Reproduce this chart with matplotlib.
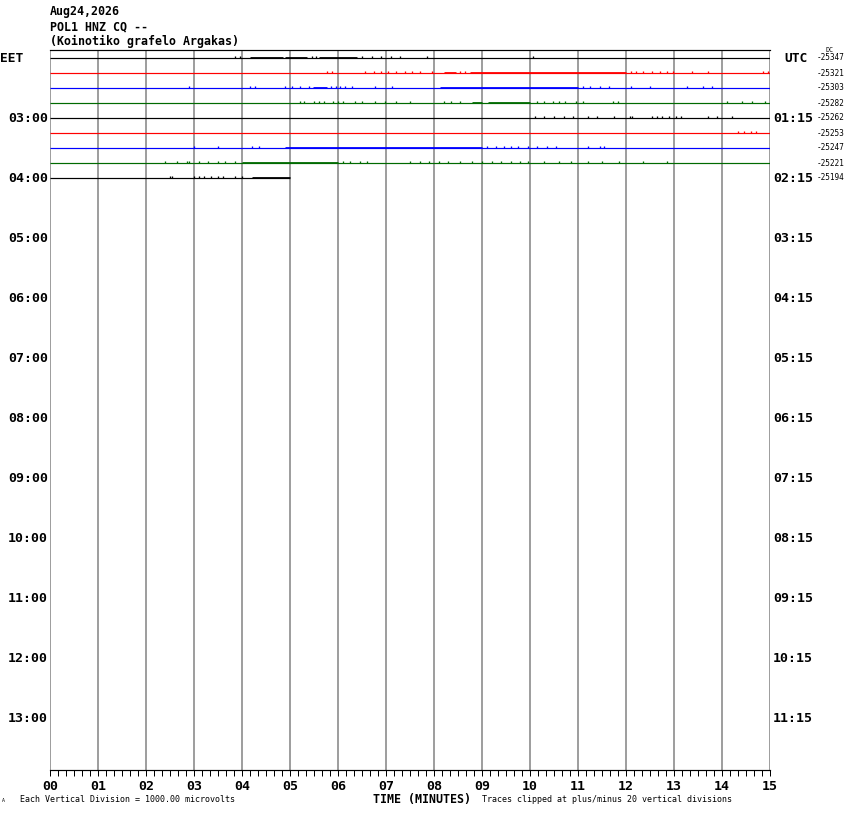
import matplotlib
matplotlib.use("Agg")
import matplotlib.pyplot as plt
from matplotlib.ticker import MultipleLocator

# header
title_lines = ["Aug24,2026", "POL1 HNZ CQ --", "(Koinotiko grafelo Argakas)"]

# hour labels (one row = 15 minutes, one label every 4 rows)
eet_labels = ["03:00", "04:00", "05:00", "06:00", "07:00", "08:00",
              "09:00", "10:00", "11:00", "12:00", "13:00"]
utc_labels = ["01:15", "02:15", "03:15", "04:15", "05:15", "06:15",
              "07:15", "08:15", "09:15", "10:15", "11:15"]

# DC offset printed at the right of each trace row
dc_values = [-25347, -25321, -25303, -25282, -25262, -25253, -25247, -25221, -25194]

trace_colors = ["black", "red", "#0000ff", "#006a00"]
n_rows_total = 48
last_row_end = 5.0   # minutes recorded on the last row

# spikes: dense spans (min) and single spikes (min)
dense_spans = [
    [(4.17, 4.85), (4.9, 5.35), (5.6, 6.4)],
    [(8.2, 8.45), (8.75, 12.0)],
    [(5.48, 5.77), (8.12, 11.0)],
    [(8.8, 9.0), (9.13, 10.0)],
    [],
    [],
    [(4.9, 9.0)],
    [(4.0, 6.0)],
    [(4.2, 5.0)],
]
single_spikes = [
    [3.85, 3.95, 5.45, 5.55, 6.5, 6.7, 6.9, 7.1, 7.3, 7.85, 10.07],
    [5.77, 5.88, 6.57, 6.75, 6.9, 7.05, 7.2, 7.4, 7.55, 7.7, 7.95, 8.55, 8.65,
     12.1, 12.2, 12.35, 12.55, 12.7, 12.85, 12.98, 13.37, 13.7, 14.85, 14.95],
    [2.9, 4.17, 4.27, 4.9, 5.04, 5.2, 5.4, 5.85, 5.95, 6.05, 6.15, 6.3, 6.77,
     7.13, 11.1, 11.25, 11.45, 11.65, 12.1, 12.5, 13.27, 13.6, 13.8],
    [5.2, 5.3, 5.5, 5.6, 5.7, 5.9, 6.0, 6.1, 6.35, 6.5, 6.77, 6.98, 7.2, 7.5,
     8.2, 8.35, 8.55, 10.15, 10.3, 10.48, 10.6, 10.73, 10.95, 11.1, 11.72,
     11.83, 14.1, 14.42, 14.63, 14.9],
    [10.1, 10.3, 10.5, 10.7, 10.9, 11.2, 11.4, 11.75, 12.08, 12.13, 12.55,
     12.65, 12.75, 12.9, 13.05, 13.15, 13.7, 13.9, 14.2],
    [14.33, 14.45, 14.6, 14.7],
    [3.0, 3.5, 4.2, 4.35, 9.1, 9.3, 9.45, 9.6, 9.75, 9.95, 10.15, 10.35, 10.55,
     11.2, 11.45, 11.55],
    [2.4, 2.65, 2.85, 2.9, 3.1, 3.3, 3.5, 3.65, 3.85, 6.1, 6.25, 6.45, 6.6,
     7.5, 7.7, 7.9, 8.1, 8.3, 8.55, 8.8, 9.0, 9.2, 9.4, 9.6, 9.8, 9.95, 10.3,
     10.6, 10.85, 11.2, 11.5, 11.85, 12.35, 12.85],
    [2.5, 2.55, 3.0, 3.1, 3.2, 3.35, 3.5, 3.6, 3.85, 4.0],
]

W, H = 850, 814
fig = plt.figure(figsize=(W / 100, H / 100), dpi=100)
ax = fig.add_axes([50 / W, (H - 770) / H, 720 / W, 720 / H])
ax.set_xlim(0, 15)
ax.set_ylim(n_rows_total - 8 / 15, -8 / 15)

mono = "DejaVu Sans Mono"
px = 72 / 100   # one pixel in points
row_px = 1 / 15  # one pixel in row units

# minute grid
ax.vlines(range(0, 16), n_rows_total, -1, color="#808080", lw=1.5 * px, zorder=1)

n_rows = len(dc_values)
for i in range(n_rows):
    c = trace_colors[i % 4]
    x_end = last_row_end if i == n_rows - 1 else 15
    ax.hlines(i, 0, x_end, color=c, lw=1.2 * px, zorder=3)
    for a, b in dense_spans[i]:
        ax.hlines(i - row_px, a, b, color=c, lw=0.9 * px, zorder=3)
    ax.vlines(single_spikes[i], i - 2 * row_px, i, color=c, lw=1.3 * px, zorder=3)

for s in ["left", "right"]:
    ax.spines[s].set_visible(False)
ax.spines["top"].set_linewidth(1.2 * px)
ax.spines["bottom"].set_linewidth(1.2 * px)

ax.set_yticks([])
ax.xaxis.set_major_locator(MultipleLocator(1))
ax.xaxis.set_minor_locator(MultipleLocator(1 / 6))
ax.set_xticks(range(16))
ax.set_xticklabels([f"{m:02d}" for m in range(16)], family=mono,
                   fontweight="bold", fontsize=9.5)
ax.tick_params(axis="x", which="both", direction="out", length=5.5 * px,
               width=1 * px, pad=3, color="black")

ytr = ax.get_yaxis_transform()
for k, (le, ru) in enumerate(zip(eet_labels, utc_labels)):
    r = 4 * (k + 1)
    ax.text(-2 / 720, r, le, transform=ytr, ha="right", va="center",
            family=mono, fontweight="bold", fontsize=9.5)
    ax.text(1 + 3 / 720, r, ru, transform=ytr, ha="left", va="center",
            family=mono, fontweight="bold", fontsize=9.5)

ax.text(-50 / 720, 0, "EET", transform=ytr, ha="left", va="center",
        family=mono, fontweight="bold", fontsize=9.3)
ax.text(1 + 14 / 720, 0, "UTC", transform=ytr, ha="left", va="center",
        family=mono, fontweight="bold", fontsize=9.3)
ax.text(1 + 56 / 720, -0.55, "DC", transform=ytr, ha="left", va="center",
        family=mono, fontsize=4.8)
for i, v in enumerate(dc_values):
    ax.text(1 + 47 / 720, i, str(v), transform=ytr, ha="left", va="center",
            family=mono, fontsize=5.6)

for j, line in enumerate(title_lines):
    fig.text(50 / W, 1 - (12 + 14.5 * j) / H, line, ha="left", va="center",
             family=mono, fontsize=8.4, fontweight="bold")

fig.text(422 / W, 1 - 799 / H, "TIME (MINUTES)", ha="center", va="center",
         family=mono, fontweight="bold", fontsize=8.4)
fig.text(20 / W, 1 - 800 / H, "Each Vertical Division = 1000.00 microvolts",
         ha="left", va="center", family=mono, fontsize=6)
fig.text(482 / W, 1 - 800 / H,
         "Traces clipped at plus/minus 20 vertical divisions",
         ha="left", va="center", family=mono, fontsize=6)
fig.text(2 / W, 1 - 801 / H, "A", ha="left", va="center", family=mono,
         fontsize=3.5)

fig.savefig("out.png", dpi=100)
